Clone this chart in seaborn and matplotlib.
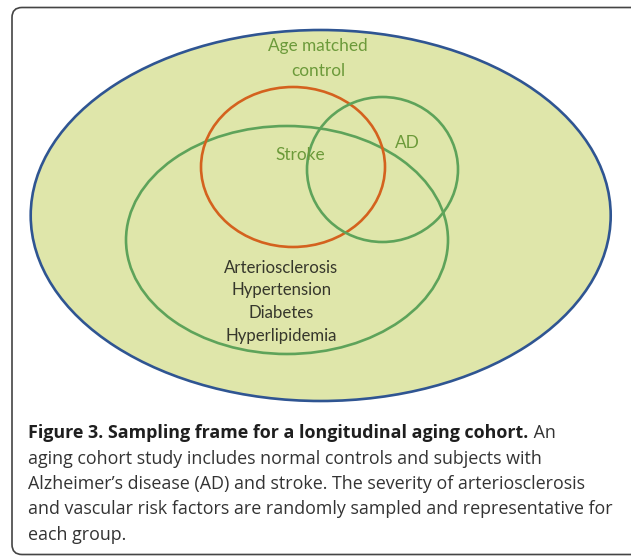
import matplotlib
matplotlib.use("Agg")
import matplotlib.pyplot as plt
import seaborn as sns
from matplotlib.patches import Ellipse, FancyBboxPatch

# ---- data (diagram content) ----
groups = ["Age matched\ncontrol", "Risk factors", "Stroke", "AD"]
group_cx = [320.7, 287.0, 293.0, 382.5]
group_cy = [215.5, 240.0, 167.0, 169.5]
group_rx = [290.0, 161.0, 92.0, 75.5]
group_ry = [185.5, 114.0, 80.0, 72.5]

risk_factors = ["Arteriosclerosis", "Hypertension", "Diabetes", "Hyperlipidemia"]

caption_bold = "Figure 3. Sampling frame for a longitudinal aging cohort."
caption_lines = [
    " An",
    "aging cohort study includes normal controls and subjects with",
    "Alzheimer\u2019s disease (AD) and stroke. The severity of arteriosclerosis",
    "and vascular risk factors are randomly sampled and representative for",
    "each group.",
]

# ---- style ----
sns.set_theme(style="white")
plt.rcParams["font.family"] = ["Lato", "DejaVu Sans"]

fill_col = "#dfe6aa"
edge_cols = ["#2f5592", "#5ea35a", "#d4621e", "#5ea35a"]
label_green = "#6c9a3a"

fig = plt.figure(figsize=(6.31, 5.56), dpi=100)
ax = fig.add_axes([0, 0, 1, 1])
ax.set_xlim(0, 631)
ax.set_ylim(556, 0)
ax.axis("off")

# frame
frame = FancyBboxPatch((12, 7.5), 640, 547.0,
                       boxstyle="round,pad=0,rounding_size=10",
                       fc="white", ec="#444444", lw=1.2, zorder=0)
ax.add_patch(frame)

for i, (cx, cy, rx, ry) in enumerate(zip(group_cx, group_cy, group_rx, group_ry)):
    ax.add_patch(Ellipse((cx, cy), 2 * rx, 2 * ry,
                         fc=fill_col if i == 0 else "none",
                         ec=edge_cols[i], lw=1.9, zorder=1 + i))

fs_d = 12.4
ax.text(318, 46, "Age matched", ha="center", va="center", color=label_green, fontsize=fs_d, zorder=10)
ax.text(318, 71, "control", ha="center", va="center", color=label_green, fontsize=fs_d, zorder=10)
ax.text(300, 155, "Stroke", ha="center", va="center", color=label_green, fontsize=fs_d, zorder=10)
ax.text(407, 143, "AD", ha="center", va="center", color=label_green, fontsize=fs_d, zorder=10)

for k, t in enumerate(risk_factors):
    ax.text(281.5, 268 + 22.5 * k, t, ha="center", va="center", color="#36372c",
            fontsize=12.1, zorder=10)

# caption
cap_font = ["Open Sans", "DejaVu Sans"]
fs_c = 12.9
x0 = 28.5
base_y = [438.5, 463.8, 489.1, 514.4, 539.7]
tb = ax.text(x0, base_y[0], caption_bold, ha="left", va="baseline", fontsize=fs_c,
             fontweight="bold", color="#1e1e1e", family=cap_font)
fig.canvas.draw()
r = fig.canvas.get_renderer()
bb = tb.get_window_extent(renderer=r)
x_end = ax.transData.inverted().transform((bb.x1, bb.y0))[0]
ax.text(x_end, base_y[0], caption_lines[0], ha="left", va="baseline", fontsize=fs_c,
        color="#333333", family=cap_font)
for k in range(1, 5):
    ax.text(x0, base_y[k], caption_lines[k], ha="left", va="baseline", fontsize=fs_c,
            color="#333333", family=cap_font)

fig.savefig("out.png", dpi=100)
